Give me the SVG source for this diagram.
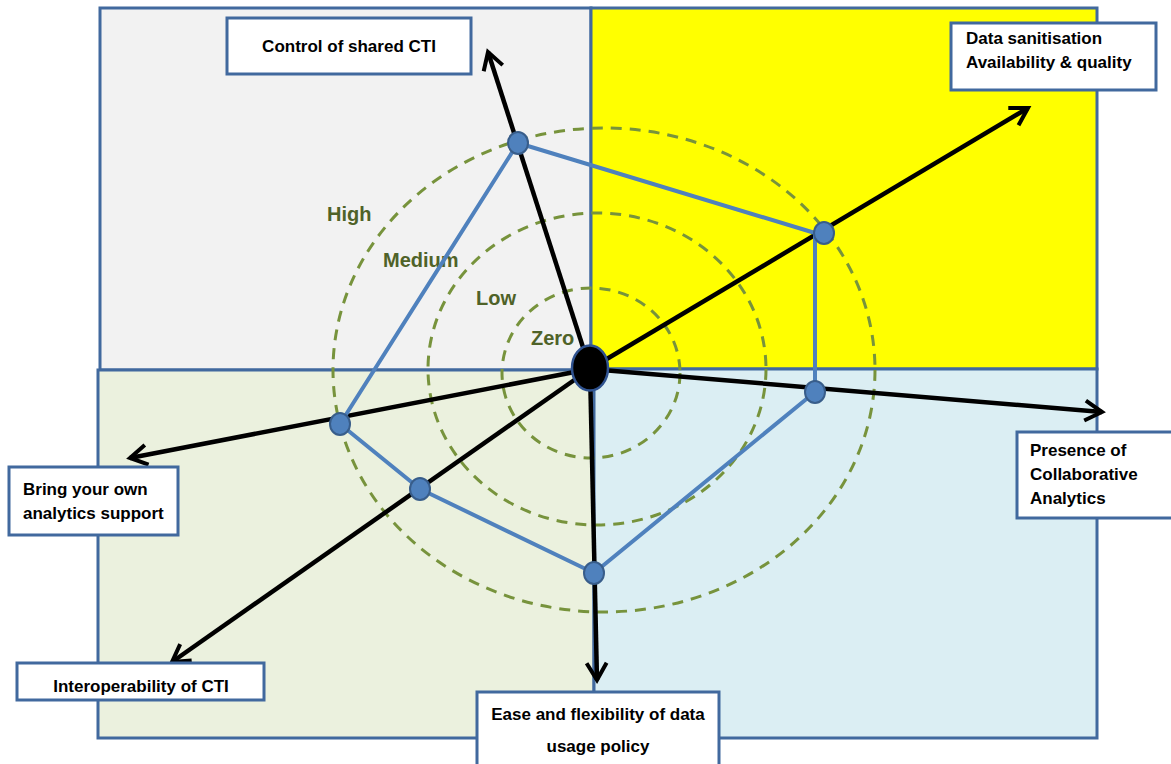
<svg xmlns="http://www.w3.org/2000/svg" width="1171" height="764" viewBox="0 0 1171 764">
  <defs>
    <marker id="chev" markerUnits="userSpaceOnUse" markerWidth="30" markerHeight="30" refX="20" refY="13" orient="auto" viewBox="0 0 30 26">
      <path d="M3,3 L20,13 L3,23" fill="none" stroke="#000" stroke-width="4" stroke-linejoin="miter"/>
    </marker>
    <style>
      .quad { stroke: #41699E; stroke-width: 3; }
      .ring { fill: none; stroke: #77933C; stroke-width: 3; stroke-dasharray: 11 8; }
      .lvl { font-family: "Liberation Sans", Arial, sans-serif; font-weight: bold; font-size: 20px; fill: #4F6228; }
      .axis { stroke: #000; stroke-width: 4.5; fill: none; marker-end: url(#chev); }
      .edge { stroke: #4F81BD; stroke-width: 4; fill: none; stroke-linejoin: round; }
      .pt { fill: #4F81BD; stroke: #385D8A; stroke-width: 2; }
      .box { fill: #fff; stroke: #41699E; stroke-width: 3; }
      .lbl { font-family: "Liberation Sans", Arial, sans-serif; font-weight: bold; font-size: 17px; fill: #000; }
    </style>
  </defs>

  <!-- four quadrant panels -->
  <g id="quadrants">
    <rect class="quad" x="100" y="8" width="491" height="362" fill="#F2F2F2"/>
    <rect class="quad" x="591" y="8" width="506" height="361" fill="#FFFF00"/>
    <rect class="quad" x="98" y="370" width="496" height="368" fill="#EBF1DE"/>
    <rect class="quad" x="594" y="369" width="503" height="369" fill="#DBEEF3"/>
  </g>

  <!-- level rings -->
  <g id="rings">
    <ellipse class="ring" cx="604" cy="370" rx="271" ry="242"/>
    <ellipse class="ring" cx="597" cy="369" rx="169" ry="156"/>
    <ellipse class="ring" cx="591" cy="373" rx="89" ry="85"/>
    <text class="lvl" x="327" y="221">High</text>
    <text class="lvl" x="383" y="267">Medium</text>
    <text class="lvl" x="476" y="305">Low</text>
    <text class="lvl" x="531" y="345">Zero</text>
  </g>

  <!-- axes and profile polygon -->
  <g id="connectors">
    <line class="axis" x1="590" y1="369" x2="488" y2="52"/>
    <line class="axis" x1="590" y1="369" x2="1028" y2="108"/>
    <line class="axis" x1="590" y1="369" x2="1102" y2="412"/>
    <line class="axis" x1="590" y1="369" x2="597" y2="680"/>
    <line class="axis" x1="590" y1="369" x2="172" y2="662"/>
    <line class="axis" x1="590" y1="369" x2="130" y2="458"/>
    <polyline class="edge" points="518,143 815,233 815,392 594,573 420,489 340,424 518,143"/>
  </g>

  <g id="points">
    <ellipse class="pt" cx="518" cy="143" rx="10" ry="11"/>
    <ellipse class="pt" cx="824" cy="233" rx="10" ry="11"/>
    <ellipse class="pt" cx="815" cy="392" rx="10" ry="11"/>
    <ellipse class="pt" cx="594" cy="573" rx="10" ry="11"/>
    <ellipse class="pt" cx="420" cy="489" rx="10" ry="11"/>
    <ellipse class="pt" cx="340" cy="424" rx="10" ry="11"/>
  </g>

  <g id="hub">
    <ellipse cx="590" cy="368" rx="18" ry="22.5" fill="#000" stroke="#2F528F" stroke-width="2.5"/>
  </g>

  <!-- axis labels -->
  <g id="label-control">
    <rect class="box" x="227" y="18" width="244" height="56"/>
    <text class="lbl" x="349" y="52" text-anchor="middle">Control of shared CTI</text>
  </g>
  <g id="label-sanitisation">
    <rect class="box" x="951" y="23" width="205" height="67"/>
    <text class="lbl" x="966" y="44">Data sanitisation</text>
    <text class="lbl" x="966" y="68">Availability &amp; quality</text>
  </g>
  <g id="label-collab">
    <rect class="box" x="1017" y="432" width="160" height="86"/>
    <text class="lbl" x="1030" y="456">Presence of</text>
    <text class="lbl" x="1030" y="480">Collaborative</text>
    <text class="lbl" x="1030" y="504">Analytics</text>
  </g>
  <g id="label-policy">
    <rect class="box" x="477" y="692" width="242" height="80"/>
    <text class="lbl" x="598" y="720" text-anchor="middle">Ease and flexibility of data</text>
    <text class="lbl" x="598" y="752" text-anchor="middle">usage policy</text>
  </g>
  <g id="label-interop">
    <rect class="box" x="17" y="663" width="247" height="37"/>
    <text class="lbl" x="141" y="692" text-anchor="middle">Interoperability of CTI</text>
  </g>
  <g id="label-byo">
    <rect class="box" x="9" y="467" width="169" height="68"/>
    <text class="lbl" x="23" y="495">Bring your own</text>
    <text class="lbl" x="23" y="519">analytics support</text>
  </g>
</svg>
